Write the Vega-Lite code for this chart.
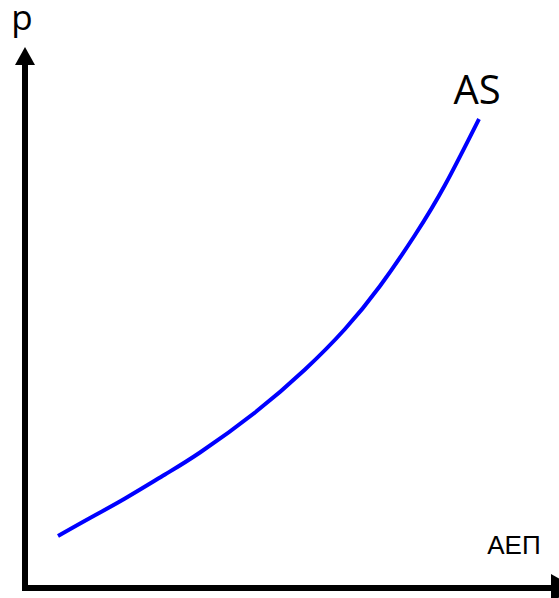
{
  "$schema": "https://vega.github.io/schema/vega-lite/v6.json",
  "width": 534,
  "height": 587,
  "autosize": {"type": "none"},
  "padding": {"left": 25, "top": 0, "right": 0, "bottom": 11},
  "background": "white",
  "config": {"view": {"stroke": null}},
  "datasets": {
    "curve": [
      {"q": 33, "p": 51},
      {"q": 65, "p": 69},
      {"q": 100, "p": 88.5},
      {"q": 140, "p": 112.5},
      {"q": 175, "p": 134.5},
      {"q": 230, "p": 174.5},
      {"q": 280, "p": 217.5},
      {"q": 320, "p": 258},
      {"q": 355, "p": 301},
      {"q": 390, "p": 352},
      {"q": 420, "p": 402},
      {"q": 454, "p": 468}
    ],
    "axes": [
      {"axis": "y", "q": 0, "p": -1, "q2": 0, "p2": 525},
      {"axis": "x", "q": -3, "p": -1, "q2": 528, "p2": -1}
    ],
    "heads": [
      {"axis": "y", "q": 0, "p": 531},
      {"axis": "x", "q": 538.6, "p": -1}
    ],
    "labels": [
      {"label": "p", "q": -3, "p": 557, "size": 35, "font": "Open Sans"},
      {"label": "AS", "q": 452, "p": 483, "size": 40, "font": "Open Sans"},
      {"label": "ΑΕΠ", "q": 489, "p": 33, "size": 26, "font": "Liberation Sans"}
    ]
  },
  "layer": [
    {
      "data": {"name": "curve"},
      "mark": {"type": "line", "color": "#0000ff", "strokeWidth": 4, "interpolate": "natural", "clip": false},
      "encoding": {
        "x": {"field": "q", "type": "quantitative", "scale": {"domain": [0, 534], "nice": false, "zero": false}, "axis": null},
        "y": {"field": "p", "type": "quantitative", "scale": {"domain": [0, 587], "nice": false, "zero": false}, "axis": null}
      }
    },
    {
      "data": {"name": "axes"},
      "mark": {"type": "rule", "color": "#000000", "strokeWidth": 6, "clip": false},
      "encoding": {
        "x": {"field": "q", "type": "quantitative"},
        "y": {"field": "p", "type": "quantitative"},
        "x2": {"field": "q2"},
        "y2": {"field": "p2"}
      }
    },
    {
      "data": {"name": "heads"},
      "transform": [{"filter": "datum.axis === 'y'"}],
      "mark": {"type": "point", "shape": "M -1 0.9 L 0 -0.9 L 1 0.9 Z", "size": 400, "filled": true, "color": "#000000", "opacity": 1, "clip": false},
      "encoding": {
        "x": {"field": "q", "type": "quantitative"},
        "y": {"field": "p", "type": "quantitative"}
      }
    },
    {
      "data": {"name": "heads"},
      "transform": [{"filter": "datum.axis === 'x'"}],
      "mark": {"type": "point", "shape": "M -0.9 -1 L 0.9 0 L -0.9 1 Z", "size": 784, "filled": true, "color": "#000000", "opacity": 1, "clip": false},
      "encoding": {
        "x": {"field": "q", "type": "quantitative"},
        "y": {"field": "p", "type": "quantitative"}
      }
    },
    {
      "data": {"name": "labels"},
      "transform": [{"filter": "datum.font === 'Open Sans'"}],
      "mark": {"type": "text", "font": "Open Sans", "align": "center", "baseline": "alphabetic", "color": "#000000", "clip": false},
      "encoding": {
        "x": {"field": "q", "type": "quantitative"},
        "y": {"field": "p", "type": "quantitative"},
        "text": {"field": "label"},
        "size": {"field": "size", "type": "quantitative", "scale": null}
      }
    },
    {
      "data": {"name": "labels"},
      "transform": [{"filter": "datum.font === 'Liberation Sans'"}],
      "mark": {"type": "text", "font": "Liberation Sans", "align": "center", "baseline": "alphabetic", "color": "#000000", "clip": false},
      "encoding": {
        "x": {"field": "q", "type": "quantitative"},
        "y": {"field": "p", "type": "quantitative"},
        "text": {"field": "label"},
        "size": {"field": "size", "type": "quantitative", "scale": null}
      }
    }
  ]
}
